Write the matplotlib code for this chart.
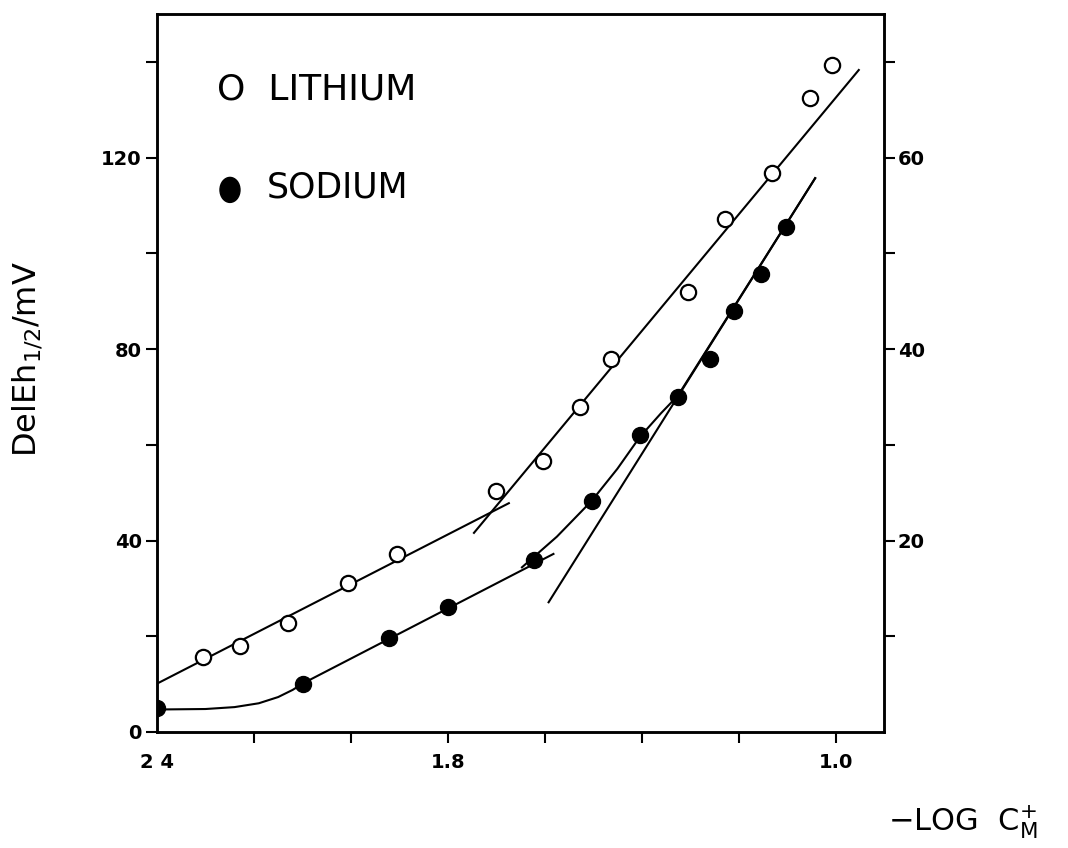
"""
Half-wave potential shift vs -log C for lithium and sodium (scanned figure redraw).
"""
import matplotlib
matplotlib.use("Agg")
import matplotlib.pyplot as plt
from matplotlib.patches import Ellipse

# measured points
li_x = [2.306, 2.229, 2.129, 2.006, 1.905, 1.701, 1.603, 1.527, 1.463,
        1.305, 1.229, 1.132, 1.052, 1.007]
li_y = [15.6, 18.0, 22.8, 31.2, 37.2, 50.3, 56.7, 67.9, 78.0,
        91.9, 107.2, 116.7, 132.4, 139.3]

na_x = [2.399, 2.098, 1.922, 1.800, 1.623, 1.503, 1.404, 1.325, 1.259,
        1.209, 1.154, 1.103]
na_y = [5.1, 10.1, 19.7, 26.1, 36.0, 48.3, 62.0, 70.0, 78.0,
        87.9, 95.7, 105.6]

# hand-drawn fit lines
li_low_x = [2.4, 1.674]
li_low_y = [10.1, 47.8]
li_high_x = [1.746, 0.952]
li_high_y = [41.6, 138.3]

na_low_x = [2.4, 2.30, 2.24, 2.19, 2.15, 2.12, 2.098, 1.582]
na_low_y = [4.7, 4.8, 5.2, 6.0, 7.3, 8.8, 10.2, 37.2]
na_curve_x = [1.647, 1.575, 1.503, 1.45, 1.404, 1.36, 1.325, 1.042]
na_curve_y = [34.4, 40.8, 48.3, 55.0, 61.6, 66.6, 70.3, 115.7]
na_tangent_x = [1.592, 1.042]
na_tangent_y = [27.1, 115.7]

x_major = [2.4, 1.8, 1.0]
x_major_labels = ["2 4", "1.8", "1.0"]
x_minor = [2.2, 2.0, 1.6, 1.4, 1.2]
y_major = [0, 40, 80, 120]
y_minor = [20, 60, 100, 140]
y2_major = [20, 40, 60]
y2_minor = [10, 30, 50, 70]

fig = plt.figure(figsize=(10.68, 8.48), dpi=100)
ax = fig.add_axes([0.147, 0.1368, 0.6807, 0.8467])

lw = 1.5
ax.plot(li_low_x, li_low_y, color="black", lw=lw)
ax.plot(li_high_x, li_high_y, color="black", lw=lw)
ax.plot(na_low_x, na_low_y, color="black", lw=lw)
ax.plot(na_curve_x, na_curve_y, color="black", lw=lw)
ax.plot(na_tangent_x, na_tangent_y, color="black", lw=lw)

ax.plot(li_x, li_y, "o", ms=11, mfc="white", mec="black", mew=1.6, zorder=3)
ax.plot(na_x, na_y, "o", ms=11.5, mfc="black", mec="black", zorder=3)

ax.set_xlim(2.4, 0.9)
ax.set_ylim(0, 150)

ax.set_xticks(x_major)
ax.set_xticklabels(x_major_labels)
ax.set_xticks(x_minor, minor=True)
ax.set_yticks(y_major)
ax.set_yticks(y_minor, minor=True)

for side in ax.spines.values():
    side.set_linewidth(1.8)

ax.tick_params(which="both", direction="out", length=8, width=1.5,
               labelsize=14, pad=3)
ax.tick_params(axis="x", which="both", pad=7)
ax.xaxis.get_major_ticks()[0].tick1line.set_visible(False)
ax.yaxis.get_major_ticks()[0].tick1line.set_visible(False)
for lbl in ax.get_xticklabels() + ax.get_yticklabels():
    lbl.set_fontweight("bold")

ax2 = ax.twinx()
ax2.set_ylim(0, 75)
ax2.set_yticks(y2_major)
ax2.set_yticks(y2_minor, minor=True)
ax2.tick_params(which="both", direction="out", length=8, width=1.5,
                labelsize=14, pad=2)
for lbl in ax2.get_yticklabels():
    lbl.set_fontweight("bold")
for side in ax2.spines.values():
    side.set_linewidth(1.8)

# legend, written straight on the plot like the original
ax.text(0.083, 0.8955, "O  LITHIUM", transform=ax.transAxes,
        fontsize=26, va="center", ha="left")
ax.add_patch(Ellipse((0.1004, 0.755), 0.0275, 0.0348, transform=ax.transAxes,
                     color="black"))
ax.text(0.151, 0.758, "SODIUM", transform=ax.transAxes,
        fontsize=25, va="center", ha="left")

ax.set_ylabel(r"DelEh$_{\mathregular{1/2}}$/mV", fontsize=23)
ax.yaxis.set_label_coords(-0.155, 0.52)

fig.text(0.8315, 0.021, r"$-$LOG  C$_{\mathregular{M}}^{\mathregular{+}}$",
         fontsize=22, ha="left", va="baseline")

fig.savefig("out.png", dpi=100, facecolor="white")
